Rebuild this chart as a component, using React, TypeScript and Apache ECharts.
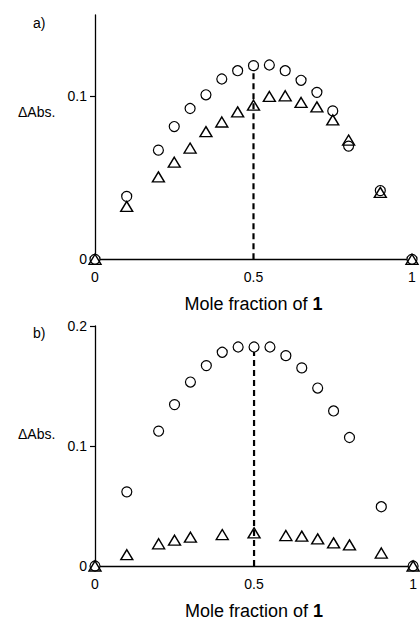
import React, { useEffect, useRef } from "react";
import * as echarts from "echarts";

const xFrac = [0, 0.1, 0.2, 0.25, 0.3, 0.35, 0.4, 0.45, 0.5, 0.55, 0.6, 0.65, 0.7, 0.75, 0.8, 0.9, 1];
const circA = [0, 0.0386, 0.067, 0.0815, 0.0926, 0.101, 0.1107, 0.1158, 0.1189, 0.1193, 0.1158, 0.1099, 0.1025, 0.0911, 0.0695, 0.0422, 0];
const triA = [0, 0.0325, 0.0506, 0.0596, 0.0683, 0.0784, 0.0843, 0.0905, 0.0946, 0.1, 0.1004, 0.0963, 0.0936, 0.0856, 0.0732, 0.0411, 0];
const circB = [0, 0.0618, 0.1124, 0.1345, 0.1533, 0.167, 0.1781, 0.1825, 0.1825, 0.1825, 0.1753, 0.1651, 0.1483, 0.1292, 0.1071, 0.0494, 0];
const xFracTriB = [0, 0.1, 0.2, 0.25, 0.3, 0.4, 0.5, 0.6, 0.65, 0.7, 0.75, 0.8, 0.9, 1];
const triB = [0, 0.0094, 0.0185, 0.0215, 0.024, 0.0262, 0.0276, 0.0254, 0.0249, 0.0226, 0.0193, 0.0176, 0.0108, 0];
const dashTopA = 0.122;
const dashTopB = 0.186;
const yTicksA = [0, 0.1];
const yTicksB = [0, 0.1, 0.2];
const xTicks = [0, 0.5, 1];

const FONT = "Liberation Sans, Arial, Helvetica, sans-serif";

function pairs(xs: number[], ys: number[]) {
  return xs.map((x, i) => [x, ys[i]]);
}

export default function App() {
  const ref = useRef<HTMLDivElement>(null);
  useEffect(() => {
    if (!ref.current) return;
    const chart = echarts.init(ref.current, undefined, { renderer: "svg" });
    const xAxisCommon = (gridIndex: number) => ({
      type: "value" as const,
      gridIndex,
      min: 0,
      max: 1,
      interval: 0.5,
      name: "{n|Mole fraction of }{b|1}",
      nameLocation: "middle" as const,
      nameGap: 36,
      nameTextStyle: {
        rich: {
          n: { fontSize: 18, fontFamily: FONT, color: "#000" },
          b: { fontSize: 18, fontFamily: FONT, color: "#000", fontWeight: "bold" },
        },
      },
      axisLine: { show: true, lineStyle: { color: "#000", width: 1.3 } },
      axisTick: { show: false },
      splitLine: { show: false },
      axisLabel: {
        customValues: xTicks,
        color: "#000",
        fontSize: 14,
        fontFamily: FONT,
        margin: 11,
        formatter: (v: number) => String(v),
      },
    });
    const yAxisCommon = (gridIndex: number, max: number, ticks: number[]) => ({
      type: "value" as const,
      gridIndex,
      min: 0,
      max,
      interval: 0.1,
      axisLine: { show: true, lineStyle: { color: "#000", width: 1.3 } },
      axisTick: { show: true, length: 5, inside: false, customValues: ticks, lineStyle: { color: "#000", width: 1.2 } },
      splitLine: { show: false },
      axisLabel: {
        customValues: ticks,
        color: "#000",
        fontSize: 14,
        fontFamily: FONT,
        margin: 8,
        formatter: (v: number) => String(v),
      },
    });
    const circ = (xi: number, data: number[][]) => ({
      type: "scatter" as const,
      xAxisIndex: xi,
      yAxisIndex: xi,
      data,
      symbol: "circle",
      symbolSize: 10,
      clip: false,
      itemStyle: { color: "#fff", borderColor: "#000", borderWidth: 1.2, opacity: 1 },
      z: 3,
    });
    const tri = (xi: number, data: number[][]) => ({
      type: "scatter" as const,
      xAxisIndex: xi,
      yAxisIndex: xi,
      data,
      symbol: "triangle",
      symbolSize: [12, 10],
      clip: false,
      itemStyle: { color: "rgba(255,255,255,0)", borderColor: "#000", borderWidth: 1.4, opacity: 1 },
      z: 4,
    });
    const dash = (xi: number, top: number) => ({
      type: "line" as const,
      xAxisIndex: xi,
      yAxisIndex: xi,
      data: [[0.5, 0], [0.5, top]],
      symbol: "none",
      lineStyle: { color: "#000", width: 2.2, type: [6, 4] as any },
      z: 2,
    });
    chart.setOption({
      animation: false,
      backgroundColor: "#fff",
      grid: [
        { left: 95, top: 15, width: 317, height: 244.3 },
        { left: 95, top: 326, width: 319, height: 241.3 },
      ],
      xAxis: [xAxisCommon(0), xAxisCommon(1)],
      yAxis: [yAxisCommon(0, 0.15, yTicksA), yAxisCommon(1, 0.2, yTicksB)],
      series: [
        dash(0, dashTopA),
        circ(0, pairs(xFrac, circA)),
        tri(0, pairs(xFrac, triA)),
        dash(1, dashTopB),
        circ(1, pairs(xFrac, circB)),
        tri(1, pairs(xFracTriB, triB)),
      ],
      graphic: [
        { type: "text", left: 33, top: 16, style: { text: "a)", fontSize: 14, fontFamily: FONT, fill: "#000" } },
        { type: "text", left: 33, top: 326, style: { text: "b)", fontSize: 14, fontFamily: FONT, fill: "#000" } },
        { type: "text", left: 18, top: 105, style: { text: "ΔAbs.", fontSize: 14, fontFamily: FONT, fill: "#000" } },
        { type: "text", left: 18, top: 427, style: { text: "ΔAbs.", fontSize: 14, fontFamily: FONT, fill: "#000" } },
      ],
    });
    return () => chart.dispose();
  }, []);
  return (
    <div
      ref={ref}
      style={{ position: "absolute", left: 0, top: 0, width: 420, height: 621, background: "#fff" }}
    />
  );
}
